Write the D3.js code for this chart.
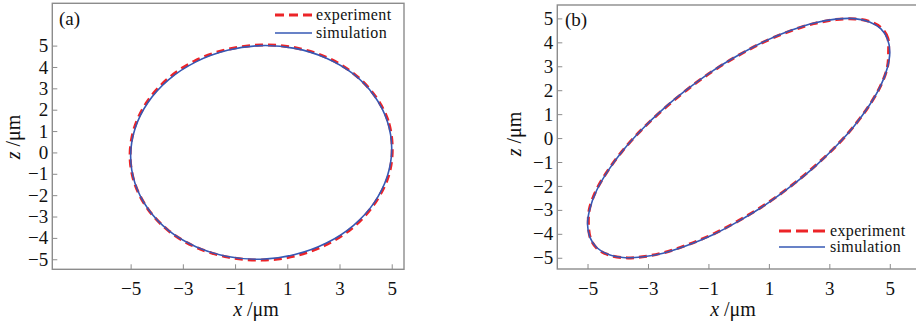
<!DOCTYPE html>
<html>
<head>
<meta charset="utf-8">
<script src="https://cdn.jsdelivr.net/npm/d3@7"></script>
<style>
  html, body { margin: 0; padding: 0; background: #fff; }
  svg { display: block; }
  text { font-family: "Liberation Serif", "DejaVu Serif", serif; fill: #111; }
</style>
</head>
<body>
<svg id="chart" width="916" height="324"></svg>
<script>
// ---------- data ----------
const xTicks = [-5, -3, -1, 1, 3, 5];
const zTicks = [-5, -4, -3, -2, -1, 0, 1, 2, 3, 4, 5];
const seriesNames = ["experiment", "simulation"];

// panel (a): near-circular trajectory
const aSimX = [5.00, 4.83, 4.33, 3.54, 2.50, 1.29, 0.00, -1.29, -2.50, -3.54, -4.33, -4.83,
               -5.00, -4.83, -4.33, -3.54, -2.50, -1.29, 0.00, 1.29, 2.50, 3.54, 4.33, 4.83];
const aSimZ = [0.17, 1.46, 2.65, 3.66, 4.41, 4.87, 5.00, 4.78, 4.24, 3.41, 2.35, 1.12,
               -0.17, -1.46, -2.65, -3.66, -4.41, -4.87, -5.00, -4.78, -4.24, -3.41, -2.35, -1.12];
const aExpX = [5.02, 4.86, 4.35, 3.55, 2.52, 1.30, 0.02, -1.30, -2.53, -3.57, -4.36, -4.86,
               -5.02, -4.84, -4.33, -3.53, -2.49, -1.27, 0.02, 1.31, 2.53, 3.57, 4.36, 4.87];
const aExpZ = [0.15, 1.48, 2.66, 3.68, 4.44, 4.90, 5.03, 4.82, 4.29, 3.45, 2.38, 1.13,
               -0.18, -1.47, -2.66, -3.68, -4.44, -4.90, -5.04, -4.84, -4.29, -3.45, -2.36, -1.12];

// panel (b): tilted elliptical trajectory
const bSimX = [5.00, 4.92, 4.70, 4.33, 3.83, 3.21, 2.50, 1.71, 0.87, 0.00, -0.87, -1.71,
               -2.50, -3.21, -3.83, -4.33, -4.70, -4.92, -5.00, -4.92, -4.70, -4.33, -3.83, -3.21,
               -2.50, -1.71, -0.87, 0.00, 0.87, 1.71, 2.50, 3.21, 3.83, 4.33, 4.70, 4.92];
const bSimZ = [3.60, 4.15, 4.57, 4.85, 4.99, 4.97, 4.81, 4.49, 4.05, 3.47, 2.80, 2.03,
               1.21, 0.35, -0.52, -1.38, -2.19, -2.94, -3.60, -4.15, -4.57, -4.85, -4.99, -4.97,
               -4.81, -4.49, -4.05, -3.47, -2.80, -2.03, -1.21, -0.35, 0.52, 1.38, 2.19, 2.94];
const bExpX = [4.96, 4.93, 4.72, 4.35, 3.85, 3.22, 2.48, 1.68, 0.84, -0.03, -0.89, -1.73,
               -2.52, -3.24, -3.86, -4.36, -4.73, -4.94, -4.97, -4.90, -4.68, -4.30, -3.80, -3.18,
               -2.46, -1.67, -0.84, 0.03, 0.90, 1.74, 2.53, 3.25, 3.86, 4.35, 4.71, 4.92];
const bExpZ = [3.58, 4.18, 4.60, 4.86, 4.98, 4.95, 4.78, 4.46, 4.02, 3.44, 2.77, 2.00,
               1.17, 0.31, -0.56, -1.42, -2.23, -2.98, -3.63, -4.20, -4.62, -4.88, -5.00, -4.96,
               -4.78, -4.45, -4.01, -3.43, -2.76, -1.99, -1.16, -0.30, 0.57, 1.42, 2.22, 2.96];

// ---------- styles ----------
const RED = "#ec2428";
const BLUE = "#3658b4";
const FRAME = "#8c8c8c";
const FONT = "'Liberation Serif', 'DejaVu Serif', serif";

const svg = d3.select("#chart");

function zip(xs, zs) { return xs.map((x, i) => [x, zs[i]]); }

const panels = [
  {
    label: "(a)",
    xDomain: [-8.0, 5.47], xRange: [52.3, 404],
    zDomain: [-5.47, 6.98], zRange: [269.3, 3.3],
    sim: zip(aSimX, aSimZ), exp: zip(aExpX, aExpZ),
    labelPos: [59, 25],
    xTitlePos: [256, 316], zTitlePos: [20, 137],
    legend: { x0: 275, x1: 312, y0: 15, y1: 33, tx: 316 }
  },
  {
    label: "(b)",
    xDomain: [-6.0, 5.9], xRange: [557.3, 917],
    zDomain: [-5.47, 5.56], zRange: [269, 5],
    sim: zip(bSimX, bSimZ), exp: zip(bExpX, bExpZ),
    labelPos: [565, 26],
    xTitlePos: [733, 316], zTitlePos: [521, 134],
    legend: { x0: 779, x1: 825, y0: 231, y1: 247, tx: 830 }
  }
];

panels.forEach(p => {
  const x = d3.scaleLinear().domain(p.xDomain).range(p.xRange);
  const z = d3.scaleLinear().domain(p.zDomain).range(p.zRange);
  const g = svg.append("g");

  const clipId = "clip" + p.label.replace(/\W/g, "");
  svg.append("clipPath").attr("id", clipId).append("rect")
    .attr("x", p.xRange[0]).attr("y", p.zRange[1])
    .attr("width", p.xRange[1] - p.xRange[0]).attr("height", p.zRange[0] - p.zRange[1]);

  // axes with inward ticks
  const xAxis = g.append("g").attr("transform", `translate(0,${p.zRange[0]})`)
    .call(d3.axisBottom(x).tickValues(xTicks).tickSizeInner(-5).tickSizeOuter(0).tickPadding(12));
  const zAxis = g.append("g").attr("transform", `translate(${p.xRange[0]},0)`)
    .call(d3.axisLeft(z).tickValues(zTicks).tickSizeInner(-5).tickSizeOuter(0).tickPadding(4));
  [xAxis, zAxis].forEach(a => {
    a.attr("font-family", FONT).attr("font-size", 19);
    a.select(".domain").remove();
    a.selectAll(".tick line").attr("stroke", FRAME).attr("stroke-width", 1);
    a.selectAll(".tick text").attr("font-size", 19)
      .attr("font-family", FONT).attr("fill", "#111");
  });
  xAxis.selectAll(".tick text").attr("dy", "0.72em");

  // frame
  g.append("rect")
    .attr("x", p.xRange[0]).attr("y", p.zRange[1])
    .attr("width", p.xRange[1] - p.xRange[0]).attr("height", p.zRange[0] - p.zRange[1])
    .attr("fill", "none").attr("stroke", FRAME).attr("stroke-width", 1.4);

  const line = d3.line().x(d => x(d[0])).y(d => z(d[1])).curve(d3.curveCatmullRomClosed.alpha(0.5));

  g.append("path").datum(p.exp).attr("d", line)
    .attr("clip-path", `url(#${clipId})`)
    .attr("fill", "none").attr("stroke", RED).attr("stroke-width", 3)
    .attr("stroke-dasharray", "8,5");
  g.append("path").datum(p.sim).attr("d", line)
    .attr("clip-path", `url(#${clipId})`)
    .attr("fill", "none").attr("stroke", BLUE).attr("stroke-width", 1.6);

  // panel label
  g.append("text").attr("x", p.labelPos[0]).attr("y", p.labelPos[1])
    .attr("font-family", FONT).attr("font-size", 19).text(p.label);

  // axis titles
  const xt = g.append("text").attr("x", p.xTitlePos[0]).attr("y", p.xTitlePos[1])
    .attr("font-family", FONT).attr("text-anchor", "middle").attr("font-size", 20);
  xt.append("tspan").attr("font-style", "italic").text("x");
  xt.append("tspan").text(" /μm");

  const zt = g.append("text")
    .attr("transform", `translate(${p.zTitlePos[0]},${p.zTitlePos[1]}) rotate(-90)`)
    .attr("font-family", FONT).attr("text-anchor", "middle").attr("font-size", 20);
  zt.append("tspan").attr("font-style", "italic").text("z");
  zt.append("tspan").text(" /μm");

  // legend
  const L = p.legend;
  const dashLen = (L.x1 - L.x0 - 2 * 5) / 3;
  g.append("line").attr("x1", L.x0).attr("x2", L.x1).attr("y1", L.y0).attr("y2", L.y0)
    .attr("stroke", RED).attr("stroke-width", 3).attr("stroke-dasharray", `${dashLen},5`);
  g.append("line").attr("x1", L.x0).attr("x2", L.x1).attr("y1", L.y1).attr("y2", L.y1)
    .attr("stroke", BLUE).attr("stroke-width", 1.6);
  g.append("text").attr("x", L.tx).attr("y", L.y0 + 5).attr("font-family", FONT)
    .attr("font-size", 16).attr("letter-spacing", 0.35).text(seriesNames[0]);
  g.append("text").attr("x", L.tx).attr("y", L.y1 + 5).attr("font-family", FONT)
    .attr("font-size", 16).attr("letter-spacing", 0.35).text(seriesNames[1]);
});
</script>
</body>
</html>
